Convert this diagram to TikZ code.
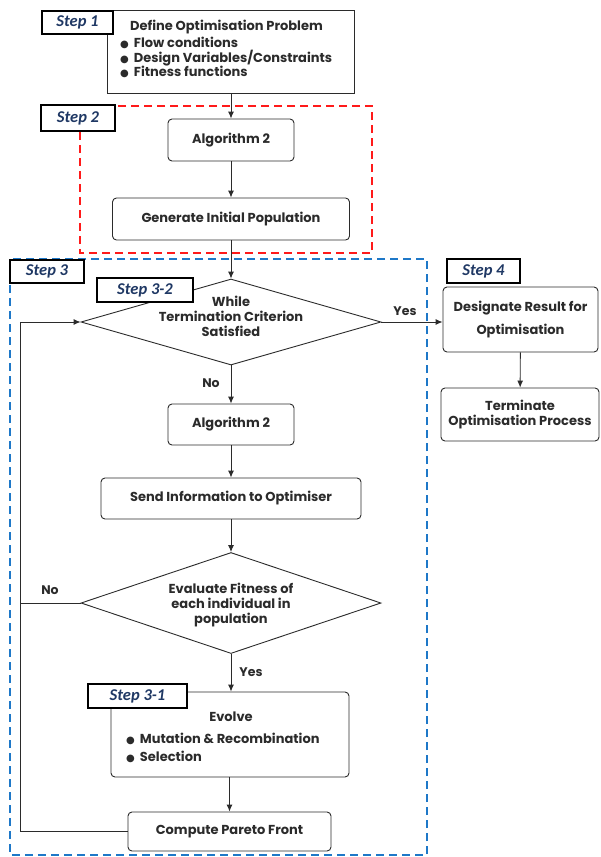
\documentclass[tikz,border=0pt]{standalone}
\usepackage{fontspec}
\setmainfont{Poppins}
\newfontfamily\lblfont{Carlito}
\newfontfamily\dejavu{DejaVu Sans}
\usetikzlibrary{shapes.geometric,arrows.meta}
\definecolor{navy}{HTML}{1F3864}
\definecolor{bluedash}{HTML}{1E78C8}
\definecolor{reddash}{HTML}{FF1A1A}
\definecolor{ink}{HTML}{2B2B2B}
\newcommand{\bul}{{\dejavu\fontsize{10}{10}\selectfont ●}\hspace{5pt}}
\tikzset{
  box/.style={draw=ink, line width=0.9pt, rounded corners=4pt, align=center, inner sep=0pt, fill=white},
  sqbox/.style={draw=ink, line width=0.9pt, inner sep=0pt, fill=white},
  dec/.style={draw=ink, line width=0.9pt, diamond, inner sep=0pt, align=center},
  steplbl/.style={draw=black, line width=1.8pt, fill=white, text=navy, font=\lblfont\fontsize{16.5}{18}\selectfont\bfseries\itshape, inner sep=0pt},
  arr/.style={draw=ink, line width=0.9pt, -{Latex[length=7pt,width=6pt]}},
  conn/.style={draw=ink, line width=0.9pt},
  lbl/.style={font=\fontsize{12.5}{14}\selectfont\bfseries, text=ink, inner sep=0pt}
}
\begin{document}
\begin{tikzpicture}[x=1pt,y=-1pt, every node/.style={font=\fontsize{13}{15}\selectfont\bfseries, text=ink}]
\useasboundingbox (0,0) rectangle (600,857);
\fill[white] (0,0) rectangle (600,857);
% dashed regions
\draw[reddash, line width=1.5pt, dash pattern=on 8pt off 5pt] (80,106) rectangle (372,253);
\draw[bluedash, line width=1.5pt, dash pattern=on 8pt off 5pt] (10,259) rectangle (427,855);

% main nodes
\node[sqbox, minimum width=247pt, minimum height=83pt] (s1) at (230.5,51.5) {};
\node[align=left, inner sep=0pt, anchor=north west] (s1t) at (120,20)
  {\hspace{10pt}Define Optimisation Problem\\[2pt]\bul Flow conditions\\[-0.5pt]\bul Design Variables/Constraints\\[-0.5pt]\bul Fitness functions};
\node[box, minimum width=126pt, minimum height=42pt] (alg1) at (231,140) {Algorithm 2};
\node[box, minimum width=237pt, minimum height=42pt] (gen) at (231,219) {Generate Initial Population};
\node[dec, minimum width=300pt, minimum height=86pt] (d1) at (231,322) {};
\node[align=center, inner sep=0pt] (d1t) at (231,316) {While\\Termination Criterion\\Satisfied};
\node[box, minimum width=126pt, minimum height=41pt] (alg2) at (231,424.5) {Algorithm 2};
\node[box, minimum width=260pt, minimum height=41pt] (send) at (231,498.5) {Send Information to Optimiser};
\node[dec, minimum width=300pt, minimum height=101pt] (d2) at (231,603) {};
\node[align=center, inner sep=0pt] (d2t) at (231,605) {Evaluate Fitness of\\each individual in\\population};
\node[box, minimum width=238pt, minimum height=85pt] (evo) at (230,734.5) {};
\node[align=center, inner sep=0pt] (evoh) at (231,717) {Evolve};
\node[align=left, inner sep=0pt, anchor=north west] (evot) at (126,732.5) {\bul Mutation \& Recombination\\[3.5pt]\bul Selection};
\node[box, minimum width=203pt, minimum height=39pt] (cpf) at (229.5,831.5) {Compute Pareto Front};
\node[box, minimum width=155pt, minimum height=65pt] (des) at (520.5,319.5) {\raisebox{-3pt}{Designate Result for}\\[8pt]Optimisation};
\node[box, minimum width=158pt, minimum height=53pt] (term) at (520,414.5) {Terminate\\Optimisation Process};

% connectors
\draw[arr] (s1.south -| alg1) -- (alg1.north);
\draw[arr] (alg1) -- (gen);
\draw[arr] (gen) -- (d1.north);
\draw[arr] (d1.south) -- (alg2.north);
\draw[arr] (alg2) -- (send);
\draw[arr] (send) -- (d2.north);
\draw[arr] (d2.south) -- (evo.north -| d2.south);
\draw[arr] (evo.south -| cpf) -- (cpf.north);
\draw[arr] (d1.east) -- (d1.east -| des.west);
\draw[arr] (des) -- (term);
\coordinate (loopL) at (20,831.5);
\draw[arr] (cpf.west) -- (loopL) |- (d1.west);
\draw[conn] (d2.west) -- (d2.west -| loopL);

% connector labels
\node[lbl] (yes1) at (405,311) {Yes};
\node[lbl] (no1) at (211,383) {No};
\node[lbl] (no2) at (50,590) {No};
\node[lbl] (yes2) at (251,672) {Yes};

% step labels
\node[steplbl, minimum width=71pt, minimum height=23pt] (st1) at (77.5,22.5) {Step 1};
\node[steplbl, minimum width=74pt, minimum height=26pt] (st2) at (78,118) {Step 2};
\node[steplbl, minimum width=74pt, minimum height=23pt] (st3) at (47,271.5) {Step 3};
\node[steplbl, minimum width=96pt, minimum height=24pt] (st32) at (145,290) {Step 3-2};
\node[steplbl, minimum width=73pt, minimum height=24pt] (st4) at (483.5,271) {Step 4};
\node[steplbl, minimum width=99pt, minimum height=24pt] (st31) at (137.5,696) {Step 3-1};
\end{tikzpicture}
\end{document}
